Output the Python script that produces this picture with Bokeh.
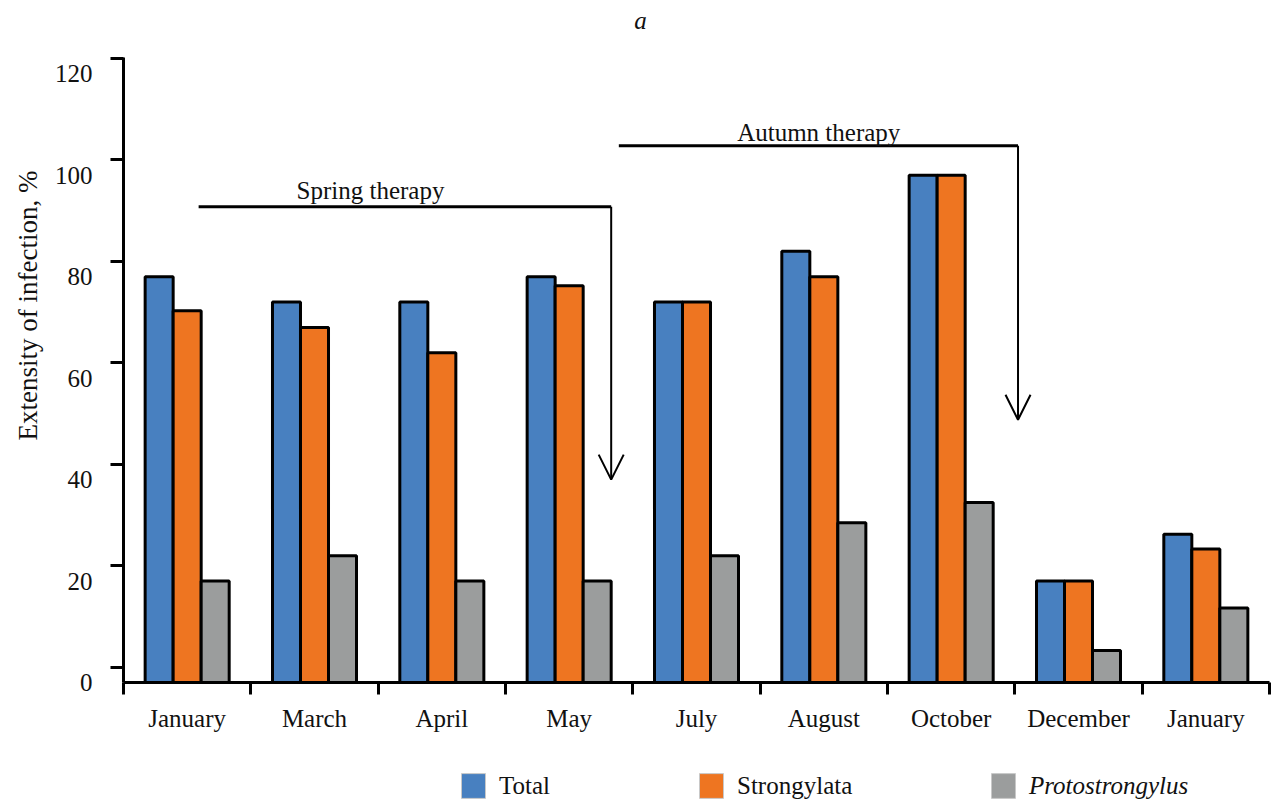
import numpy as np
from bokeh.plotting import figure
from bokeh.layouts import column
from bokeh.models import (ColumnDataSource, Range1d, FixedTicker, Legend, LegendItem,
                          Title, Label, Arrow, OpenHead)
from bokeh.core.properties import value
from bokeh.embed import file_html
from bokeh.resources import INLINE

# ---------------- data ----------------
months = ["January", "March", "April", "May", "July", "August", "October", "December", "January"]
total = [80, 75, 75, 80, 75, 85, 100, 20, 29.2]
strongylata = [73.3, 70, 65, 78.2, 75, 80, 100, 20, 26.3]
protostrongylus = [20, 25, 20, 20, 25, 31.5, 35.5, 6.3, 14.7]
series_names = ["Total", "Strongylata", "Protostrongylus"]
y_tick_values = [0, 20, 40, 60, 80, 100, 120]

# annotations (data units)
spring_text = "Spring therapy"
spring_line_x = [0.59, 3.83]
spring_line_y = 93.8
spring_arrow_end = 40.0
spring_text_pos = (1.94, 96.9)
autumn_text = "Autumn therapy"
autumn_line_x = [3.89, 7.025]
autumn_line_y = 105.8
autumn_arrow_end = 51.8
autumn_text_pos = (5.46, 108.4)

# ---------------- style ----------------
colors = ["#4880C0", "#EE7521", "#9B9D9D"]
FONT = "Liberation Serif"
TXT = "#111111"
bar_w = 0.22
offsets = [-0.22, 0.0, 0.22]
tick_mark_shift = 3.0   # the original's tick marks sit slightly above the labels
W = 1271

n = len(months)
centers = np.arange(n) + 0.5

# ---------------- header with panel letter ----------------
header = figure(width=W, height=50, x_range=Range1d(0, 1), y_range=Range1d(0, 1),
                output_backend="svg", toolbar_location=None, min_border=0,
                x_axis_location=None, y_axis_location=None)
header.outline_line_color = None
header.xgrid.visible = False
header.ygrid.visible = False
header.add_layout(Label(x=517, y=30, x_units="screen", y_units="screen", text="a",
                        text_align="center", text_baseline="alphabetic",
                        text_font=FONT, text_font_style="italic", text_font_size="25px",
                        text_color=TXT))

# ---------------- main chart ----------------
p = figure(width=W, height=710, x_range=Range1d(0, n), y_range=Range1d(0, 123.2),
           output_backend="svg", toolbar_location=None,
           min_border_left=123, min_border_right=2, min_border_top=7, min_border_bottom=78)
p.outline_line_color = None
p.xgrid.visible = False
p.ygrid.visible = False

series = [total, strongylata, protostrongylus]
for vals, off, col in zip(series, offsets, colors):
    src = ColumnDataSource(dict(x=centers + off, top=vals))
    p.vbar(x="x", top="top", width=bar_w, bottom=0, source=src,
           fill_color=col, line_color="black", line_width=3)

# therapy brackets
for lx, ly, le in [(spring_line_x, spring_line_y, spring_arrow_end),
                   (autumn_line_x, autumn_line_y, autumn_arrow_end)]:
    p.line(x=[lx[0], lx[1]], y=[ly, ly], line_color="black", line_width=3)
    p.add_layout(Arrow(x_start=lx[1], y_start=ly, x_end=lx[1], y_end=le,
                       line_width=2, line_color="black",
                       end=OpenHead(size=25, line_width=2, line_color="black")))
p.text(x=[spring_text_pos[0], autumn_text_pos[0]], y=[spring_text_pos[1], autumn_text_pos[1]],
       text=[spring_text, autumn_text], text_align="center", text_baseline="alphabetic",
       text_font=value(FONT), text_font_size="25px", text_color=TXT)

# x axis: labels at group centres, tick marks at group boundaries
xa = p.xaxis[0]
xa.ticker = FixedTicker(ticks=[float(c) for c in centers], minor_ticks=[float(i) for i in range(n + 1)])
xa.major_label_overrides = {float(c): m for c, m in zip(centers, months)}
xa.major_tick_out = 0
xa.major_tick_in = 0
xa.minor_tick_out = 12
xa.minor_tick_in = 0
xa.minor_tick_line_width = 3
xa.minor_tick_line_color = "black"
xa.axis_line_width = 3
xa.axis_line_color = "black"
xa.major_label_standoff = 10
xa.major_label_text_font = FONT
xa.major_label_text_font_size = "25px"
xa.major_label_text_color = TXT

# y axis
ya = p.yaxis[0]
ya.ticker = FixedTicker(ticks=y_tick_values, minor_ticks=[v + tick_mark_shift for v in y_tick_values])
ya.major_tick_out = 0
ya.major_tick_in = 0
ya.minor_tick_out = 13
ya.minor_tick_in = 0
ya.minor_tick_line_width = 3
ya.minor_tick_line_color = "black"
ya.axis_line_width = 3
ya.axis_line_color = "black"
ya.major_label_standoff = 18
ya.major_label_text_font = FONT
ya.major_label_text_font_size = "25px"
ya.major_label_text_color = TXT

# y axis title (side title, shifted upward like the original)
p.add_layout(Title(text="Extensity of infection, %", align="left", offset=242, standoff=18,
                   text_font=FONT, text_font_size="27px", text_font_style="normal",
                   text_color=TXT), "left")

# ---------------- legend row ----------------
leg_fig = figure(width=W, height=42, x_range=Range1d(0, 1), y_range=Range1d(0, 1),
                 output_backend="svg", toolbar_location=None, min_border=0,
                 x_axis_location=None, y_axis_location=None)
leg_fig.outline_line_color = None
leg_fig.xgrid.visible = False
leg_fig.ygrid.visible = False
# swatch renderers for the legend (zero-height, outside the visible range)
swatches = [leg_fig.vbar(x=[-5], top=[0], bottom=[0], width=0.1, fill_color=c,
                         line_color="#c8c8c8", line_width=1)
            for c in colors]
common = dict(orientation="horizontal", glyph_width=30, glyph_height=31, label_standoff=11,
              padding=0, margin=0, border_line_alpha=0, background_fill_alpha=0,
              label_text_font=FONT, label_text_font_size="25px", label_text_color=TXT,
              label_width=10, label_height=26)
leg_a = Legend(items=[LegendItem(label=series_names[0], renderers=[swatches[0]]),
                      LegendItem(label=series_names[1], renderers=[swatches[1]])],
               location=(335, 1), spacing=146, **common)
leg_b = Legend(items=[LegendItem(label=series_names[2], renderers=[swatches[2]])],
               location=(865, 1), label_text_font_style="italic", **common)
leg_fig.add_layout(leg_a)
leg_fig.add_layout(leg_b)

layout = column(header, p, leg_fig, spacing=0)
open("out.html", "w").write(file_html(layout, INLINE))
